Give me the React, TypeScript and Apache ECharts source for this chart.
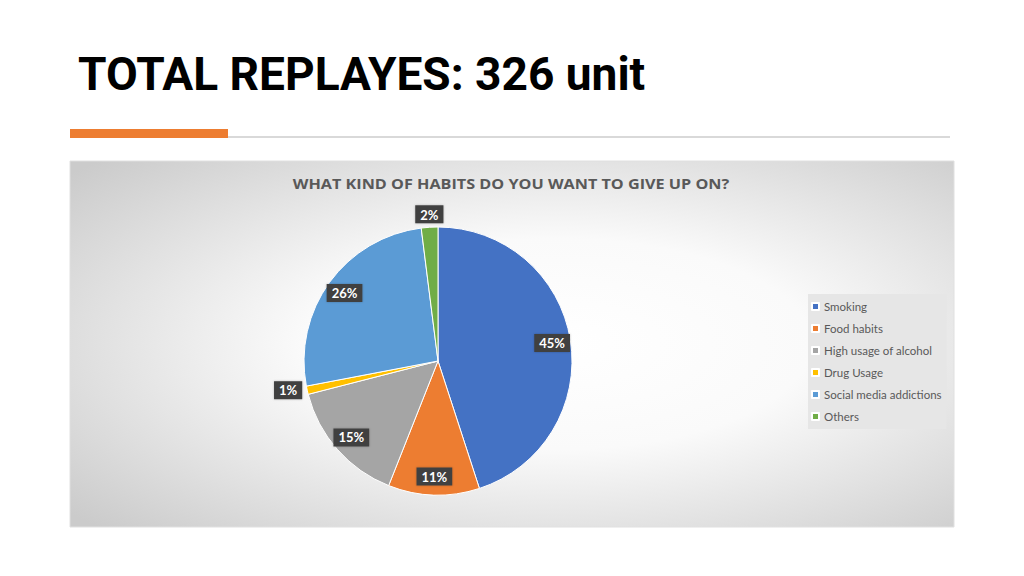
import * as echarts from "echarts";
import { useEffect, useRef } from "react";

const pageTitle = "TOTAL REPLAYES: 326 unit";
const chartTitle = "WHAT KIND OF HABITS DO YOU WANT TO GIVE UP ON?";
const categories = [
  "Smoking",
  "Food habits",
  "High usage of alcohol",
  "Drug Usage",
  "Social media addictions",
  "Others",
];
const percentages = [45, 11, 15, 1, 26, 2];
const colors = ["#4472C4", "#ED7D31", "#A5A5A5", "#FFC000", "#5B9BD5", "#70AD47"];
// small slices get their label outside the pie
const outsideLabels = ["Drug Usage", "Others"];

const FONT = "Lato, 'Open Sans', sans-serif";

export default function App() {
  const chartRef = useRef<HTMLDivElement>(null);

  useEffect(() => {
    const chart = echarts.init(chartRef.current!, null, { renderer: "svg" });
    const center = [438, 361];
    const radius = 134;

    chart.setOption({
      animation: false,
      graphic: [
        {
          type: "text",
          x: 78,
          y: 74,
          scaleX: 0.98,
          style: {
            text: pageTitle,
            font: "bold 47px Roboto, sans-serif",
            fill: "#000",
            verticalAlign: "middle",
          },
        },
        { type: "rect", shape: { x: 228, y: 136, width: 722, height: 2 }, style: { fill: "#d9d9d9" } },
        { type: "rect", shape: { x: 70, y: 129, width: 158, height: 9 }, style: { fill: "#ED7D31" } },
        {
          type: "rect",
          z: -10,
          shape: { x: 70, y: 161, width: 884, height: 366 },
          style: {
            fill: new echarts.graphic.RadialGradient(0.55, 0.5, 0.72, [
              { offset: 0, color: "#ffffff" },
              { offset: 0.4, color: "#fafafa" },
              { offset: 1, color: "#cbcbcb" },
            ]),
            stroke: "#e0e0e0",
            lineWidth: 1,
          },
        },
        {
          type: "text",
          x: 511,
          y: 183,
          scaleX: 1.08,
          style: {
            text: chartTitle,
            font: "bold 15px 'Open Sans', sans-serif",
            fill: "#595959",
            align: "center",
            verticalAlign: "middle",
          },
        },
      ],
      legend: {
        orient: "vertical",
        left: 808,
        top: 294,
        backgroundColor: "#e6e6e6",
        padding: [6, 5, 6, 3],
        itemWidth: 7,
        itemHeight: 7,
        itemGap: 9,
        icon: "rect",
        textStyle: { fontSize: 11.5, color: "#595959", fontFamily: FONT, lineHeight: 13 },
        data: categories.map((name, i) => ({ name, itemStyle: { color: colors[i] } })),
      },
      series: [
        {
          type: "pie",
          center,
          radius,
          startAngle: 90,
          clockwise: true,
          silent: true,
          emphasis: { disabled: true },
          label: { show: false },
          labelLine: { show: false },
          itemStyle: { borderColor: "#ffffff", borderWidth: 1 },
          data: categories.map((name, i) => ({
            name,
            value: percentages[i],
            itemStyle: { color: colors[i] },
          })),
        },
        {
          // transparent ring used only to place the data labels
          type: "pie",
          center,
          radius: [radius * 0.68, radius],
          startAngle: 90,
          clockwise: true,
          silent: true,
          avoidLabelOverlap: false,
          emphasis: { disabled: true },
          itemStyle: { color: "rgba(0,0,0,0)" },
          label: {
            show: true,
            position: "inside",
            formatter: "{c}%",
            color: "#ffffff",
            fontWeight: "bold",
            fontSize: 13,
            fontFamily: FONT,
            backgroundColor: "#404040",
            padding: [3, 5, 2, 5],
            shadowColor: "rgba(0,0,0,0.25)",
            shadowBlur: 2,
          },
          labelLine: { show: false },
          labelLayout: (p: any) =>
            p.dataIndex === categories.indexOf("Others")
              ? { align: "center", verticalAlign: "bottom", dx: 5 }
              : {},
          data: categories.map((name, i) => ({
            name,
            value: percentages[i],
            ...(outsideLabels.includes(name)
              ? {
                  label: { position: "outside" },
                  labelLine: { show: false, length: name === "Others" ? 4 : 0, length2: 0 },
                }
              : {}),
          })),
        },
      ],
    });
    return () => chart.dispose();
  }, []);

  return (
    <div
      ref={chartRef}
      style={{ position: "fixed", left: 0, top: 0, width: 1024, height: 576, background: "#ffffff" }}
    />
  );
}
